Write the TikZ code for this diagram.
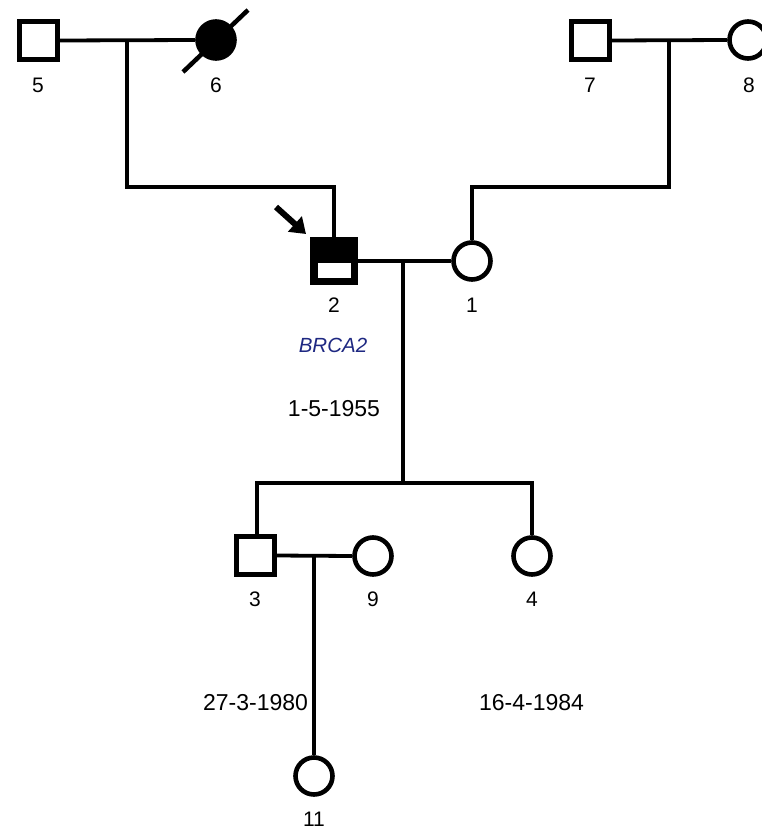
\documentclass[tikz,border=0pt]{standalone}
\usepackage{fontspec}
\setmainfont{Liberation Sans}
\usetikzlibrary{arrows.meta,calc}
\definecolor{brca}{RGB}{30,40,130}
\begin{document}
\begin{tikzpicture}[x=1pt,y=-1pt,
  male/.style={draw, line width=5pt, rectangle, minimum size=38pt, inner sep=0pt, fill=white},
  female/.style={draw, line width=4.6pt, circle, minimum size=37pt, inner sep=0pt, fill=white},
  conn/.style={line width=3.8pt},
  lbl/.style={font=\fontsize{21}{25}\selectfont, inner sep=0pt},
  datelbl/.style={font=\fontsize{23}{27}\selectfont, inner sep=0pt},
  gene/.style={font=\fontsize{20.5}{24}\selectfont\itshape, text=brca, inner sep=0pt}]
\useasboundingbox[fill=white] (0,0) rectangle (761,832);
% junction coordinates
\coordinate (m56) at (127,40);
\coordinate (c2) at (127,187);
\coordinate (m78) at (669,40);
\coordinate (c1) at (669,187);
\coordinate (m21) at (403,261);
\coordinate (sib) at (403,483);
\coordinate (m39) at (314,556);
% individuals
\node[male] (n5) at (38.5,40.5) {};
\node[female, fill=black] (n6) at (216,40) {};
\node[male] (n7) at (590.5,40.5) {};
\node[female] (n8) at (748,40) {};
\node[male] (n2) at (334,261) {};
\node[female] (n1) at (472,261) {};
\node[male] (n3) at (255,555.5) {};
\node[female] (n9) at (373,556) {};
\node[female] (n4) at (532,556) {};
\node[female] (n11) at (314,776) {};
% connectors
\draw[conn] (n5.east) -- (n6.west);
\draw[conn] (n7.east) -- (n8.west);
\draw[conn] (m56) -- (c2) -| (n2.north);
\draw[conn] (m78) -- (c1) -| (n1.north);
\draw[conn] (n2.east) -- (n1.west);
\draw[conn] (m21) -- (sib);
\draw[conn] ([xshift=2pt]n3.north) |- (sib) -| (n4.north);
\draw[conn] (n3.east) -- (n9.west);
\draw[conn] (m39) -- (n11.north);
% affected half of 2
\fill (n2.north west) rectangle ([yshift=-2pt]n2.east);
\draw[line width=5pt] (n2.north west) rectangle (n2.south east);
% deceased slash
\coordinate (s1) at (183,72);
\coordinate (s2) at (248,10);
\draw[line width=4.5pt] (s1) -- (s2);
% proband arrow
\coordinate (arT) at (276,207);
\coordinate (arH) at (306,234);
\draw[line width=6pt, -{Triangle[length=15pt,width=20pt]}] (arT) -- (arH);
% labels
\node[lbl] (l5) at (38,85) {5};
\node[lbl] (l6) at (216,85) {6};
\node[lbl] (l7) at (590,85) {7};
\node[lbl] (l8) at (749,85) {8};
\node[lbl] (l2) at (334,305) {2};
\node[lbl] (l1) at (472,305) {1};
\node[gene] (g2) at (333,345) {BRCA2};
\node[datelbl] (d1) at (334,409) {1-5-1955};
\node[lbl] (l3) at (255,599) {3};
\node[lbl] (l9) at (373,599) {9};
\node[lbl] (l4) at (532,599) {4};
\node[datelbl] (d2) at (255.5,703) {27-3-1980};
\node[datelbl] (d3) at (531.5,703) {16-4-1984};
\node[lbl] (l11) at (314,819) {11};
\end{tikzpicture}
\end{document}
